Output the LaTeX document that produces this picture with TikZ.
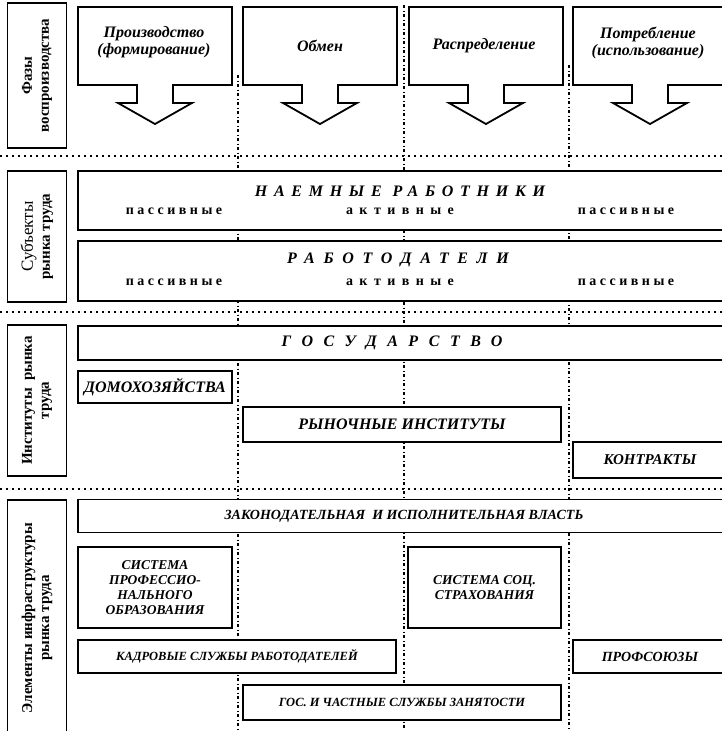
\documentclass[tikz,border=0pt]{standalone}
\usepackage{fontspec}
\setmainfont{Liberation Serif}
\usetikzlibrary{positioning}
\newcommand{\bi}[2]{\bfseries\itshape\fontsize{#1}{#2}\selectfont}
\newcommand{\razr}[2]{\fontsize{#1}{#1}\selectfont\addfontfeatures{LetterSpace=#2}}
\tikzstyle{blok}  =[draw, line width=1.8pt, fill=white, inner sep=0pt,
                    align=center]
\tikzstyle{bok}   =[draw, line width=1.8pt, fill=white, inner sep=0pt,
                    rotate=90, minimum height=59pt, align=center,
                    font=\bfseries\fontsize{15}{17}\selectfont]
\tikzstyle{faza}  =[draw, line width=1.8pt, fill=white, line join=miter]
\tikzstyle{razd}  =[line width=2pt, dash pattern=on 2pt off 4pt]
\tikzstyle{kolonka}=[line width=1.2pt, dash pattern=on 3pt off 2.5pt on 1pt off 2.5pt]
\tikzstyle{tip}   =[inner sep=0pt, font=\bfseries\razr{14}{25}]

\begin{document}
\begin{tikzpicture}[x=1pt,y=-1pt]
    \useasboundingbox (0,0) rectangle (722,731);
    \clip (0,0) rectangle (722,731);

    % column and section lines
    \foreach \x/\y in {238/75,404/5,569/65}
        \draw[kolonka] (\x,\y) -- (\x,731);
    \foreach \y in {156,312,489}
        \draw[razd] (0,\y) -- (722,\y);

    % phases
    \foreach \x in {155,320,486,650}
        \draw[faza] (\x-77,7) -- (\x+77,7) -- (\x+77,85) -- (\x+18,85)
            -- (\x+18,103) -- (\x+37,103) -- (\x,124) -- (\x-37,103)
            -- (\x-18,103) -- (\x-18,85) -- (\x-77,85) -- cycle;
    \node[font=\bi{16}{17}, align=center] (proizv) at (154,42)
        {Производство\\(формирование)};
    \node[font=\bi{16}{17}] (obmen) at (320,46) {Обмен};
    \node[font=\bi{16}{17}] (raspr) at (484,46) {Распределение};
    \node[font=\bi{16}{17}, align=center] (potreb) at (648,43)
        {Потребление\\(использование)};

    % left captions
    \node[bok, minimum width=145pt] (fazy) at (37,75.5) {Фазы\\воспроизводства};
    \node[bok, minimum width=131pt] (subj) at (37,236.5)
        {{\mdseries\fontsize{17}{19}\selectfont Субъекты}\\рынка труда};
    \node[bok, minimum width=151pt] (inst) at (37,400.5) {Институты \ рынка\\труда};
    \node[bok, minimum width=236pt] (elem) at (37,618)
        {Элементы инфраструктуры\\рынка труда};

    % subjects
    \node[blok, minimum width=652pt, minimum height=59pt] (naem) at (404,200.5) {};
    \node[font=\bi{16}{16}\addfontfeatures{LetterSpace=42}] (naemt) at (400,191)
        {НАЕМНЫЕ РАБОТНИКИ};
    \node[tip] (naem1) at (174,211) {пассивные};
    \node[tip, font=\bfseries\razr{14}{46}] (naem2) at (400,211) {активные};
    \node[tip] (naem3) at (626,211) {пассивные};

    \node[blok, minimum width=652pt, minimum height=60pt] (rabot) at (404,271) {};
    \node[font=\bi{16}{16}\addfontfeatures{LetterSpace=54}] (rabott) at (398,260)
        {РАБОТОДАТЕЛИ};
    \node[tip] (rabot1) at (174,282) {пассивные};
    \node[tip, font=\bfseries\razr{14}{46}] (rabot2) at (400,282) {активные};
    \node[tip] (rabot3) at (626,282) {пассивные};

    % institutes
    \node[blok, minimum width=652pt, minimum height=34pt] (gos) at (404,343) {};
    \node[font=\bi{16}{16}\addfontfeatures{LetterSpace=66}] (gost) at (392,343)
        {ГОСУДАРСТВО};
    \node[blok, minimum width=154pt, minimum height=32pt, font=\bi{16}{16}]
        (domo) at (155,387) {ДОМОХОЗЯЙСТВА};
    \node[blok, minimum width=318pt, minimum height=35pt, font=\bi{16}{16}]
        (rynok) at (402,424.5) {РЫНОЧНЫЕ ИНСТИТУТЫ};
    \node[blok, minimum width=154pt, minimum height=36pt, font=\bi{15}{15}]
        (kontr) at (650,460) {КОНТРАКТЫ};

    % infrastructure
    \node[blok, minimum width=652pt, minimum height=33pt, font=\bi{14}{14}]
        (zakon) at (404,516) {ЗАКОНОДАТЕЛЬНАЯ \ И ИСПОЛНИТЕЛЬНАЯ ВЛАСТЬ};
    \node[blok, minimum width=154pt, minimum height=81pt, font=\bi{13.5}{15}]
        (prof) at (155,587.5) {СИСТЕМА\\ПРОФЕССИО-\\НАЛЬНОГО\\ОБРАЗОВАНИЯ};
    \node[blok, minimum width=153pt, minimum height=81pt, font=\bi{13.5}{15}]
        (strah) at (484.5,587.5) {СИСТЕМА СОЦ.\\СТРАХОВАНИЯ};
    \node[blok, minimum width=318pt, minimum height=33pt, font=\bi{12.5}{12.5}]
        (kadr) at (237,656.5) {КАДРОВЫЕ СЛУЖБЫ РАБОТОДАТЕЛЕЙ};
    \node[blok, minimum width=154pt, minimum height=33pt, font=\bi{14}{14}]
        (profs) at (650,656.5) {ПРОФСОЮЗЫ};
    \node[blok, minimum width=318pt, minimum height=35pt, font=\bi{12.5}{12.5}]
        (zan) at (402,702.5) {ГОС. И ЧАСТНЫЕ СЛУЖБЫ ЗАНЯТОСТИ};
\end{tikzpicture}
\end{document}
